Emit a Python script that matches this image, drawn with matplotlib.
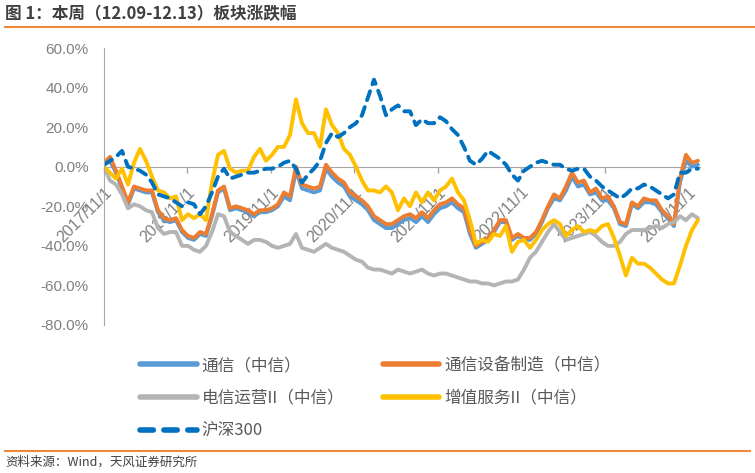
import matplotlib
matplotlib.use("Agg")
import matplotlib.pyplot as plt
import pandas as pd

plt.rcParams['font.family'] = ['Noto Sans CJK SC', 'DejaVu Sans']

# sample dates (even spacing between first and last trading day shown)
dates = pd.date_range('2017-11-01', '2024-12-13', periods=100)

tongxin = [1, 3, -3, -11, -19, -11, -12, -13, -13, -23, -27, -28, -27, -33, -36, -37, -34, -35, -25, -13,
           -11, -22, -21, -22, -23, -25, -23, -23, -22, -20, -15, -17, -2, -11, -12, -13, -12, -1, -5, -8,
           -10, -15, -17, -19, -22, -27, -29, -31, -31, -29, -27, -26, -28, -25, -28, -24, -21, -20, -18, -21,
           -23, -34, -41, -39, -37, -33, -28, -28, -37, -35, -37, -37, -34, -28, -21, -16, -17, -12, -5, -10,
           -9, -14, -13, -17, -17, -21, -29, -30, -19, -21, -18, -18, -19, -23, -26, -30, -8, 3, 0, 1]
shebei = [2, 5, -2, -10, -18, -10, -11, -12, -12, -22, -26, -27, -26, -32, -35, -36, -33, -34, -24, -12,
          -10, -21, -20, -21, -22, -24, -22, -22, -21, -19, -13, -15, 0, -9, -10, -11, -10, 1, -3, -6,
          -8, -13, -15, -17, -20, -25, -27, -29, -29, -27, -25, -24, -26, -23, -26, -22, -19, -18, -16, -19,
          -21, -32, -40, -38, -36, -32, -27, -27, -36, -34, -36, -36, -33, -27, -20, -14, -16, -10, -3, -8,
          -7, -13, -11, -16, -15, -20, -28, -29, -18, -20, -16, -17, -17, -22, -25, -29, -6, 6, 2, 3]
yunying = [0, -7, -9, -14, -21, -19, -20, -22, -23, -31, -34, -33, -33, -40, -40, -42, -43, -40, -33, -24,
           -25, -33, -35, -37, -39, -37, -37, -38, -40, -41, -40, -39, -34, -41, -42, -43, -41, -39, -41, -42,
           -43, -45, -47, -48, -51, -52, -52, -53, -54, -52, -53, -54, -53, -52, -54, -55, -54, -54, -55, -56,
           -57, -58, -58, -59, -59, -60, -59, -58, -58, -57, -52, -46, -43, -38, -33, -29, -33, -37, -36, -35,
           -34, -33, -35, -38, -40, -40, -38, -34, -32, -32, -32, -31, -30, -31, -29, -28, -25, -27, -24, -26]
zengzhi = [0, -3, -6, -1, -9, 2, 9, 3, -5, -12, -13, -16, -15, -27, -24, -26, -24, -27, -8, 6,
           8, -1, -3, -2, -2, 5, 9, 3, 6, 10, 10, 16, 34, 22, 17, 17, 10, 29, 21, 17,
           9, 6, 0, -7, -12, -12, -13, -10, -13, -22, -16, -20, -13, -18, -13, -17, -12, -10, -6, -13,
           -17, -27, -39, -37, -38, -34, -35, -30, -43, -38, -37, -41, -37, -32, -29, -27, -29, -35, -32, -30,
           -33, -32, -33, -30, -29, -36, -45, -55, -46, -49, -49, -51, -54, -57, -59, -59, -50, -40, -32, -27]
hs300 = [1, 3, 5, 8, 0, -1, -2, -4, -8, -14, -15, -16, -18, -20, -18, -19, -24, -20, -13, -5,
         -1, -6, -5, -4, -3, -3, -2, -1, -1, 0, 2, 3, -1, -8, -4, -1, 3, 12, 17, 15,
         17, 20, 22, 26, 35, 44, 36, 26, 29, 31, 28, 28, 21, 24, 22, 22, 25, 23, 19, 16,
         10, 3, 1, 4, 8, 6, 4, 1, -4, -7, -2, 0, 2, 3, 2, 1, 1, -1, -2, -1,
         -1, -5, -7, -10, -12, -14, -16, -14, -11, -11, -9, -10, -12, -14, -16, -14, -3, -3, -1, -1]

names = ['通信（中信）', '通信设备制造（中信）', '电信运营II（中信）', '增值服务II（中信）', '沪深300']
colors = ['#5B9BD5', '#ED7D31', '#B4B4B4', '#FFC000', '#0070C0']
tick_dates = pd.date_range('2017-11-01', '2024-11-01', freq='12MS')
yticks = [60, 40, 20, 0, -20, -40, -60, -80]

fig = plt.figure(figsize=(7.55, 4.73), dpi=100)
ax = fig.add_axes([104 / 755, 1 - 325 / 473, 596 / 755, 277 / 473])
ax.set_axisbelow(True)

# spines first: moving a spine resets the tick objects
for s in ['top', 'right']:
    ax.spines[s].set_visible(False)
ax.spines['bottom'].set_position(('data', 0))
ax.spines['bottom'].set_color('#A6A6A6')
ax.spines['left'].set_color('#A6A6A6')
ax.spines['bottom'].set_zorder(0.5)

handles = []
for vals, name, c in zip([tongxin, shebei, yunying, zengzhi], names[:4], colors[:4]):
    h, = ax.plot(dates, vals, color=c, lw=2.8, solid_capstyle='round', label=name)
    handles.append(h)
h, = ax.plot(dates, hs300, color=colors[4], lw=2.8, ls=(0, (2.4, 1.9)),
             dash_capstyle='round', label=names[4])
handles.append(h)

ax.set_ylim(-80, 60)
ax.set_xlim(pd.Timestamp('2017-11-01'), pd.Timestamp('2024-12-22'))
ax.tick_params(axis='y', length=0, pad=11)
ax.tick_params(axis='x', length=4, width=1, color='#A6A6A6', pad=9)
ax.set_yticks(yticks)
ax.set_yticklabels([f'{v:.1f}%' for v in yticks], family='Liberation Sans', fontsize=11, color='#7F7F7F')

ax.set_xticks(tick_dates)
ax.set_xticklabels([f'{d.year}/{d.month}/{d.day}' for d in tick_dates], family='Liberation Sans',
                   fontsize=11.5, color='#7F7F7F', rotation=45, ha='right', va='top',
                   rotation_mode='anchor')

order = [0, 2, 4, 1, 3]
leg = fig.legend([handles[i] for i in order], [names[i] for i in order], ncol=2,
                 loc='upper left', bbox_to_anchor=(140 / 755, 1 - 357 / 473), frameon=False,
                 fontsize=12, handlelength=3.4, handletextpad=0.3, columnspacing=2.3,
                 labelspacing=0.95, borderpad=0, borderaxespad=0)
for t in leg.get_texts():
    t.set_color('#595959')
for lh in leg.get_lines():
    lh.set_linewidth(4)

fig.text(5 / 755, 1 - 14 / 473, '图 1：本周（12.09-12.13）板块涨跌幅', fontsize=12,
         fontweight='bold', color='#404040', va='center', ha='left')
fig.add_artist(plt.Line2D([5 / 755, 1], [1 - 27 / 473] * 2, color='#F0883A', lw=1.5))
fig.add_artist(plt.Line2D([5 / 755, 750 / 755], [1 - 451 / 473] * 2, color='#F0883A', lw=1.5))
fig.text(5 / 755, 1 - 462 / 473, '资料来源：Wind，天风证券研究所', fontsize=9, color='#404040',
         va='center', ha='left')

fig.savefig('out.png', dpi=100)
